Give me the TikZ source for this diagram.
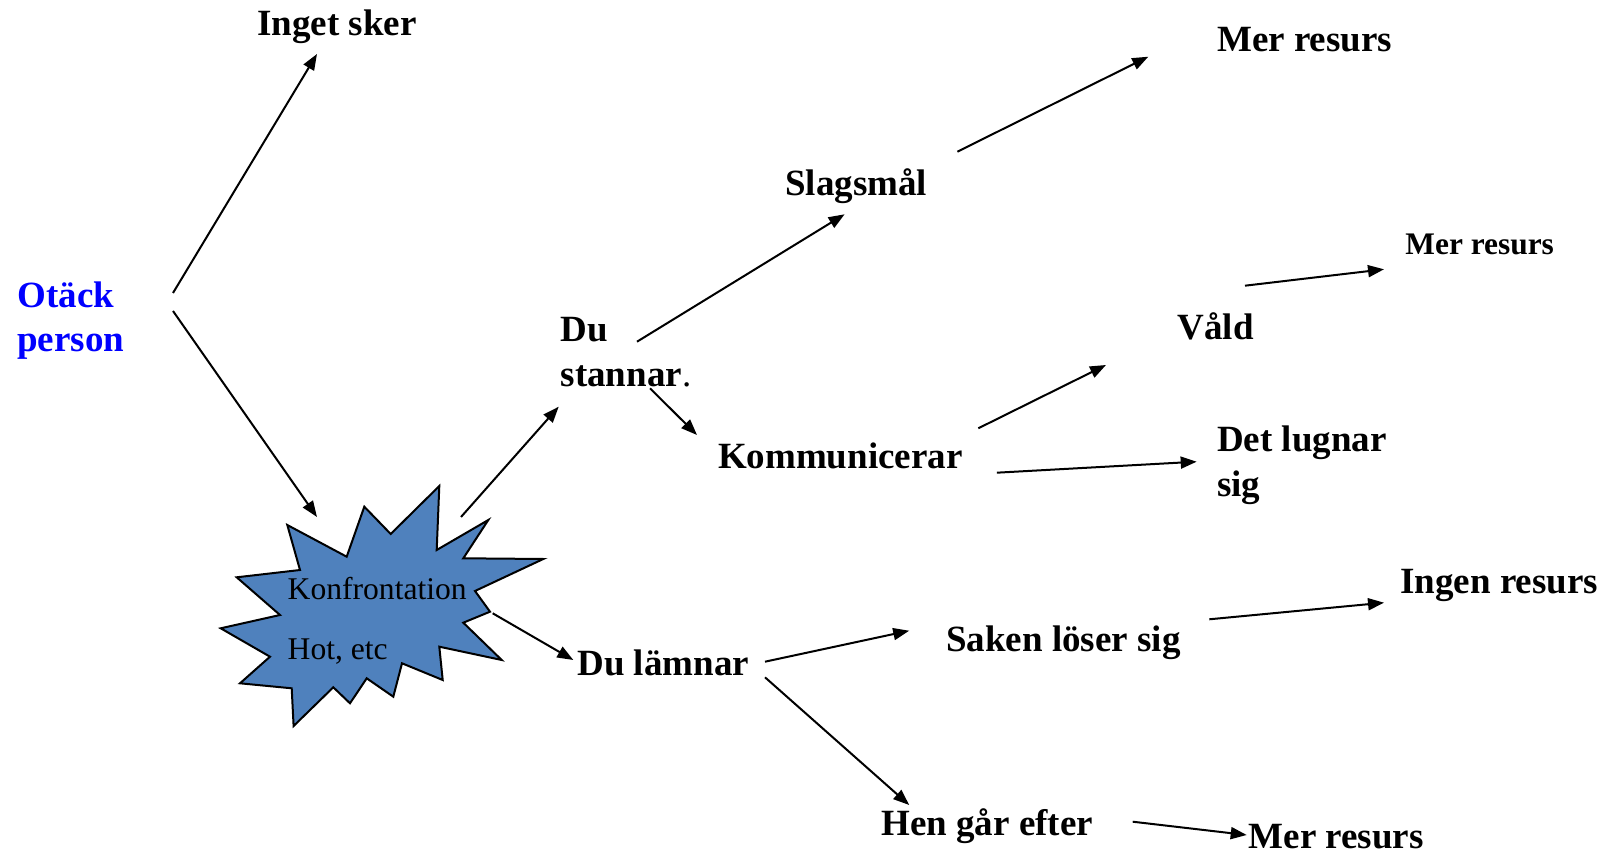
\documentclass[tikz,border=0pt]{standalone}
\usepackage{fontspec}
\setmainfont{Liberation Serif}
\usetikzlibrary{arrows.meta}
\definecolor{starblue}{RGB}{79,129,189}
\definecolor{txtblue}{RGB}{0,0,255}
\newcommand{\twolines}[3]{\vtop{\baselineskip=#3\relax\hbox{#1}\hbox{#2}}}
\begin{document}
\begin{tikzpicture}[x=0.5pt,y=-0.5pt,
  lbl/.style={anchor=base west,inner sep=0pt,font=\fontsize{18.5}{22.5}\selectfont\bfseries},
  smalllbl/.style={anchor=base west,inner sep=0pt,font=\fontsize{15.7}{19}\selectfont\bfseries},
  startext/.style={anchor=base west,inner sep=0pt,font=\fontsize{15.8}{19}\selectfont},
  arr/.style={-{Triangle[length=8pt,width=6pt]},line width=1pt},
  burst/.style={draw=black,line width=1pt,fill=starblue,line join=miter}]
\useasboundingbox (0,0) rectangle (1615,854);

% explosion shape
\draw[burst] (287.3,525) -- (346.7,556.7) -- (364.3,506.7) -- (390.7,534) -- (439.3,486)
  -- (436.7,550) -- (488.3,520) -- (463.3,558.3) -- (543.3,559) -- (475,591)
  -- (490,611.7) -- (463.3,622.7) -- (501.7,660) -- (439.3,646.7) -- (442.7,680)
  -- (402,663.3) -- (393.3,696.7) -- (366.7,678.3) -- (350,703.3) -- (333.3,687.3)
  -- (293.6,726) -- (291.7,688.3) -- (240,683.3) -- (270,656.7) -- (220.7,628.3)
  -- (280,615) -- (236.7,577.3) -- (300,570) -- cycle;

% text nodes
\node[lbl,text=txtblue] (otack) at (17,307.3) {\twolines{Otäck}{person}{22.2pt}};
\node[lbl] (inget) at (257,36) {Inget sker};
\node[startext] (konf) at (287.3,600) {\twolines{Konfrontation}{Hot, etc}{29.5pt}};
\node[lbl] (du) at (560.3,341.7) {\twolines{Du}{stannar\mdseries.}{22.5pt}};
\node[lbl] (slags) at (785,196) {Slagsmål};
\node[lbl] (mer1) at (1216.7,51.7) {Mer resurs};
\node[smalllbl] (mer2) at (1405,255) {Mer resurs};
\node[lbl] (vald) at (1177.3,340) {Våld};
\node[lbl] (komm) at (717.6,468.3) {Kommunicerar};
\node[lbl] (lugn) at (1216.7,451.7) {\twolines{Det lugnar}{sig}{22.5pt}};
\node[lbl] (lamn) at (577,675) {Du lämnar};
\node[lbl] (saken) at (945.8,651.7) {Saken löser sig};
\node[lbl] (ingen) at (1400,593.3) {Ingen resurs};
\node[lbl] (hen) at (881,835) {Hen går efter};
\node[lbl] (mer3) at (1248.3,848) {Mer resurs};

% connector end points
\coordinate (a1s) at (173,293);     \coordinate (a1e) at (317,54);
\coordinate (a2s) at (173,311);     \coordinate (a2e) at (317,517);
\coordinate (a3s) at (461,517);     \coordinate (a3e) at (558.7,406.7);
\coordinate (a4s) at (637,341.7);   \coordinate (a4e) at (844.6,214.3);
\coordinate (a5s) at (650,388.3);   \coordinate (a5e) at (697,435);
\coordinate (a6s) at (978.3,428.3); \coordinate (a6e) at (1106,365);
\coordinate (a7s) at (996.8,472.7); \coordinate (a7e) at (1196.7,461.7);
\coordinate (a8s) at (957.4,151.7); \coordinate (a8e) at (1148.3,56.7);
\coordinate (a9s) at (1245,285.7);  \coordinate (a9e) at (1384,269.3);
\coordinate (a10s) at (492.7,613.3); \coordinate (a10e) at (573.3,660);
\coordinate (a11s) at (765,661.7);  \coordinate (a11e) at (909.2,630.7);
\coordinate (a12s) at (765,677.3);  \coordinate (a12e) at (909.2,805);
\coordinate (a13s) at (1209.3,619.3); \coordinate (a13e) at (1384,602.7);
\coordinate (a14s) at (1132.7,821.7); \coordinate (a14e) at (1246.7,835);

% connectors
\draw[arr] (a1s) -- (a1e);
\draw[arr] (a2s) -- (a2e);
\draw[arr] (a3s) -- (a3e);
\draw[arr] (a4s) -- (a4e);
\draw[arr] (a5s) -- (a5e);
\draw[arr] (a6s) -- (a6e);
\draw[arr] (a7s) -- (a7e);
\draw[arr] (a8s) -- (a8e);
\draw[arr] (a9s) -- (a9e);
\draw[arr] (a10s) -- (a10e);
\draw[arr] (a11s) -- (a11e);
\draw[arr] (a12s) -- (a12e);
\draw[arr] (a13s) -- (a13e);
\draw[arr] (a14s) -- (a14e);
\end{tikzpicture}
\end{document}
